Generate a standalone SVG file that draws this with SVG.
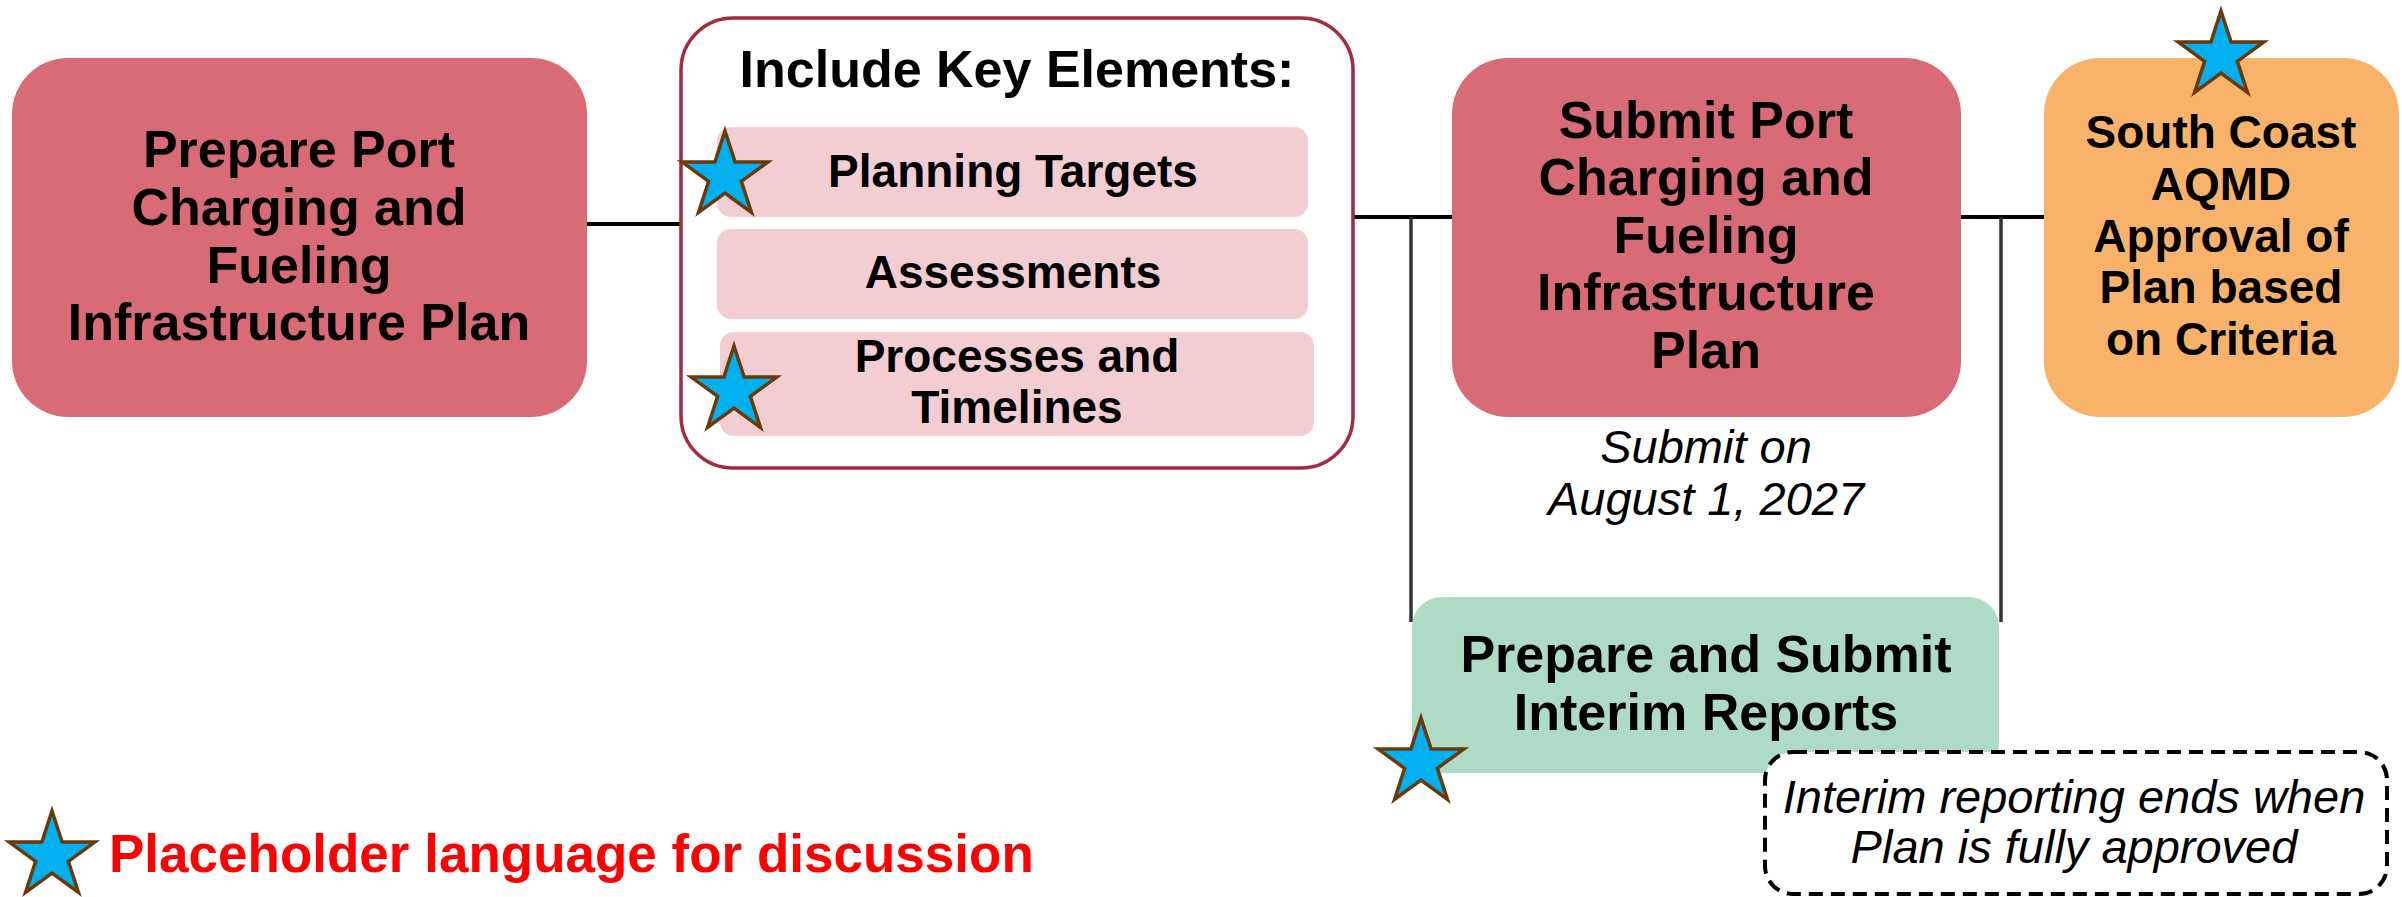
<svg xmlns="http://www.w3.org/2000/svg" xmlns:xlink="http://www.w3.org/1999/xlink" width="2402" height="897" viewBox="0 0 2402 897">
<style>
.bt{font-family:"Liberation Sans",Arial,sans-serif;font-weight:bold;fill:#000;text-anchor:middle}
.it{font-family:"Liberation Sans",Arial,sans-serif;font-style:italic;fill:#000;text-anchor:middle}
.red{fill:#D96B76}
.sub{fill:#F2CDD2}
.star{fill:#00B0F0;stroke:#6B3A0A;stroke-width:3.5;stroke-linejoin:miter}
.hl{stroke:#000;stroke-width:4;fill:none}
.vl{stroke:#333;stroke-width:3.5;fill:none}
</style>
<defs>
<path id="star" d="M0,-45 L10.1,-13.91 L42.8,-13.91 L16.35,5.31 L26.45,36.41 L0,17.19 L-26.45,36.41 L-16.35,5.31 L-42.8,-13.91 L-10.1,-13.91 Z"/>
</defs>
<rect width="2402" height="897" fill="#fff"/>
<g id="connectors">
<line class="hl" x1="586" y1="224" x2="682" y2="224"/>
<line class="hl" x1="1353" y1="217" x2="1452" y2="217"/>
<line class="hl" x1="1961" y1="217" x2="2044" y2="217"/>
<line class="vl" x1="1411" y1="217" x2="1411" y2="622"/>
<line class="vl" x1="2001" y1="217" x2="2001" y2="622"/>
</g>
<g id="node-prepare">
<rect class="red" x="12" y="58" width="575" height="359" rx="56"/>
<text class="bt" font-size="52"><tspan x="299" y="167">Prepare Port</tspan><tspan x="299" y="225">Charging and</tspan><tspan x="299" y="283">Fueling</tspan><tspan x="299" y="340">Infrastructure Plan</tspan></text>
</g>
<g id="node-elements">
<rect x="681" y="18" width="672" height="450" rx="52" fill="#fff" stroke="#A32B3D" stroke-width="3.5"/>
<text class="bt" font-size="52" x="1017" y="87">Include Key Elements:</text>
<g id="node-planning">
<rect class="sub" x="717" y="127" width="591" height="90" rx="14"/>
<text class="bt" font-size="46" x="1013" y="187">Planning Targets</text>
</g>
<g id="node-assessments">
<rect class="sub" x="717" y="229" width="591" height="90" rx="14"/>
<text class="bt" font-size="46" x="1013" y="288">Assessments</text>
</g>
<g id="node-processes">
<rect class="sub" x="720" y="332" width="594" height="104" rx="14"/>
<text class="bt" font-size="46"><tspan x="1017" y="372">Processes and</tspan><tspan x="1017" y="423">Timelines</tspan></text>
</g>
</g>
<g id="node-submit">
<rect class="red" x="1452" y="58" width="509" height="359" rx="56"/>
<text class="bt" font-size="52"><tspan x="1706" y="138">Submit Port</tspan><tspan x="1706" y="195">Charging and</tspan><tspan x="1706" y="253">Fueling</tspan><tspan x="1706" y="310">Infrastructure</tspan><tspan x="1706" y="368">Plan</tspan></text>
</g>
<g id="label-submit-date">
<text class="it" font-size="47"><tspan x="1706" y="463">Submit on</tspan><tspan x="1706" y="515">August 1, 2027</tspan></text>
</g>
<g id="node-approval">
<rect x="2044" y="58" width="355" height="359" rx="56" fill="#F8B26A"/>
<text class="bt" font-size="46"><tspan x="2221" y="148">South Coast</tspan><tspan x="2221" y="200">AQMD</tspan><tspan x="2221" y="252">Approval of</tspan><tspan x="2221" y="303">Plan based</tspan><tspan x="2221" y="355">on Criteria</tspan></text>
</g>
<g id="node-interim">
<rect x="1412" y="597" width="587" height="176" rx="30" fill="#AEDBC6"/>
<text class="bt" font-size="52"><tspan x="1706" y="672">Prepare and Submit</tspan><tspan x="1706" y="730">Interim Reports</tspan></text>
</g>
<g id="note-interim">
<rect x="1765" y="752" width="622" height="142" rx="28" fill="#fff" stroke="#000" stroke-width="4" stroke-dasharray="14 8"/>
<text class="it" font-size="47"><tspan x="2074" y="813">Interim reporting ends when</tspan><tspan x="2074" y="863">Plan is fully approved</tspan></text>
</g>
<g id="stars">
<use xlink:href="#star" href="#star" class="star" x="725" y="176"/>
<use xlink:href="#star" href="#star" class="star" x="734" y="391"/>
<use xlink:href="#star" href="#star" class="star" x="1421" y="763"/>
<use xlink:href="#star" href="#star" class="star" x="2221" y="56"/>
</g>
<g id="legend">
<use xlink:href="#star" href="#star" class="star" x="52" y="856"/>
<text x="109" y="872" font-family="Liberation Sans, Arial, sans-serif" font-weight="bold" font-size="53" fill="#FF0000">Placeholder language for discussion</text>
</g>
</svg>
